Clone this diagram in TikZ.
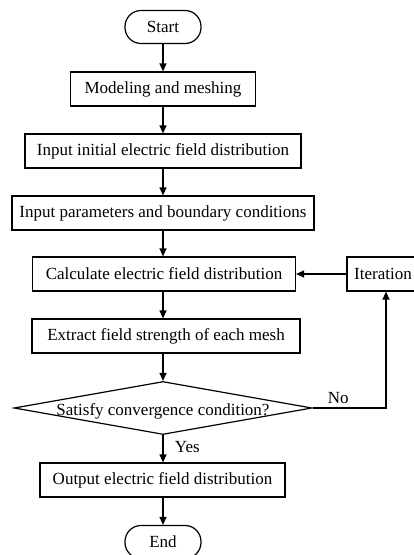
\documentclass[tikz,border=0pt]{standalone}
\usepackage{fontspec}
\setmainfont{Liberation Serif}
\usetikzlibrary{arrows.meta,shapes.geometric}

\tikzset{
  flowbox/.style={draw, rectangle, minimum height=34pt, inner sep=0pt},
  termbox/.style={draw, rectangle, rounded corners=16pt, minimum width=76pt,
    minimum height=33pt},
  decbox/.style={draw, diamond, aspect=5.7, minimum width=298pt,
    minimum height=53pt, inner sep=0pt},
  flowarrow/.style={-{Triangle[length=8pt,width=7pt]}},
}

\begin{document}
\begin{tikzpicture}[x=1pt, y=-1pt, line width=1.2pt, font=\fontsize{17}{19}\selectfont]
  \useasboundingbox (0,0) rectangle (413,555);

  \node[termbox] (start) at (163,27) {Start};
  \node[flowbox, minimum width=185pt] (model) at (163,89) {Modeling and meshing};
  \node[flowbox, minimum width=276pt] (init) at (163,151) {Input initial electric field distribution};
  \node[flowbox, minimum width=302pt] (param) at (163,213) {Input parameters and boundary conditions};
  \node[flowbox, minimum width=263pt] (calc) at (164,274) {Calculate electric field distribution};
  \node[flowbox, minimum width=268pt] (extract) at (166,336) {Extract field strength of each mesh};
  \node[decbox] (conv) at (163,408) {};
  \node at (163,411) {Satisfy convergence condition?};
  \node[flowbox, minimum width=72pt] (iter) at (383,274) {Iteration};
  \node[flowbox, minimum width=245pt] (output) at (162.5,480) {Output electric field distribution};
  \node[termbox] (end) at (163,542) {End};
  \coordinate (turn) at (386,408);

  \draw[flowarrow] (start) -- (model);
  \draw[flowarrow] (model) -- (init);
  \draw[flowarrow] (init) -- (param);
  \draw[flowarrow] (param) -- (calc.north -| param);
  \draw[flowarrow] (calc.south -| start) -- (extract.north -| start);
  \draw[flowarrow] (extract.south -| start) -- (conv.north);
  \draw[flowarrow] (conv.south) -- node[right=8pt, pos=0.45] {Yes} (output.north -| conv);
  \draw[flowarrow] (output.south -| start) -- (end);
  \draw[flowarrow] (conv.east) -- node[above, pos=0.35] {No} (turn) -- (turn |- iter.south);
  \draw[flowarrow] (iter) -- (calc);
\end{tikzpicture}
\end{document}
